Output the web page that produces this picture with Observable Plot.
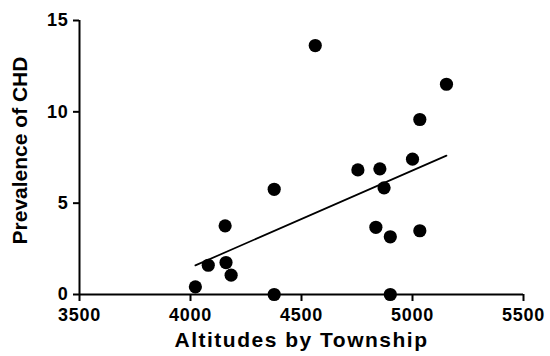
<!DOCTYPE html>
<html>
<head>
<meta charset="utf-8">
<script src="https://cdn.jsdelivr.net/npm/d3@7"></script>
<script src="https://cdn.jsdelivr.net/npm/@observablehq/plot@0.6"></script>
<style>
  html, body { margin: 0; padding: 0; background: #fff; }
</style>
</head>
<body>
<div id="chart"></div>
<script>
const altitude   = [4562, 5153, 5033, 5000, 4853, 4754, 4872, 4377, 4835, 4900, 5033, 4156, 4080, 4160, 4183, 4022, 4377, 4900];
const prevalence = [13.63, 11.51, 9.58, 7.41, 6.88, 6.82, 5.84, 5.76, 3.68, 3.16, 3.49, 3.76, 1.60, 1.75, 1.06, 0.42, 0, 0];
const xTicks = [3500, 4000, 4500, 5000, 5500];
const yTicks = [0, 5, 10, 15];

const data = altitude.map((a, i) => ({altitude: a, prevalence: prevalence[i]}));

const chart = Plot.plot({
  width: 550,
  height: 356,
  marginLeft: 79,
  marginRight: 27,
  marginTop: 20,
  marginBottom: 62,
  style: {background: "#fff", color: "#000", fontFamily: "'Liberation Sans', Arial, sans-serif", fontWeight: "bold"},
  x: {domain: [3500, 5500]},
  y: {domain: [0, 15]},
  marks: [
    Plot.axisX({ticks: xTicks, tickFormat: "d", tickSize: 7, tickPadding: 7, strokeWidth: 2,
      label: "Altitudes by Township", labelAnchor: "center", labelArrow: "none", labelOffset: 52}),
    Plot.axisY({ticks: yTicks, tickFormat: "d", tickSize: 6, tickPadding: 5, strokeWidth: 2,
      label: "Prevalence of CHD", labelAnchor: "center", labelArrow: "none", labelOffset: 67}),
    Plot.ruleY([0], {stroke: "#000", strokeWidth: 2}),
    Plot.ruleX([3500], {stroke: "#000", strokeWidth: 2}),
    Plot.linearRegressionY(data, {x: "altitude", y: "prevalence", ci: 0, stroke: "#000", strokeWidth: 1.7}),
    Plot.dot(data, {x: "altitude", y: "prevalence", r: 6.6, fill: "#000", stroke: "none"})
  ]
});
const svg = d3.select(chart);
svg.selectAll('g[aria-label="x-axis tick label"] text, g[aria-label="y-axis tick label"] text')
  .style("font-size", "18px").style("font-weight", "bold").style("letter-spacing", "0.8px");
svg.selectAll('g[aria-label="x-axis label"] text')
  .style("font-size", "21px").style("font-weight", "bold").style("letter-spacing", "1.5px");
svg.selectAll('g[aria-label="y-axis label"] text')
  .style("font-size", "21px").style("font-weight", "bold").attr("dx", 7);
document.getElementById("chart").append(chart);
</script>
</body>
</html>
